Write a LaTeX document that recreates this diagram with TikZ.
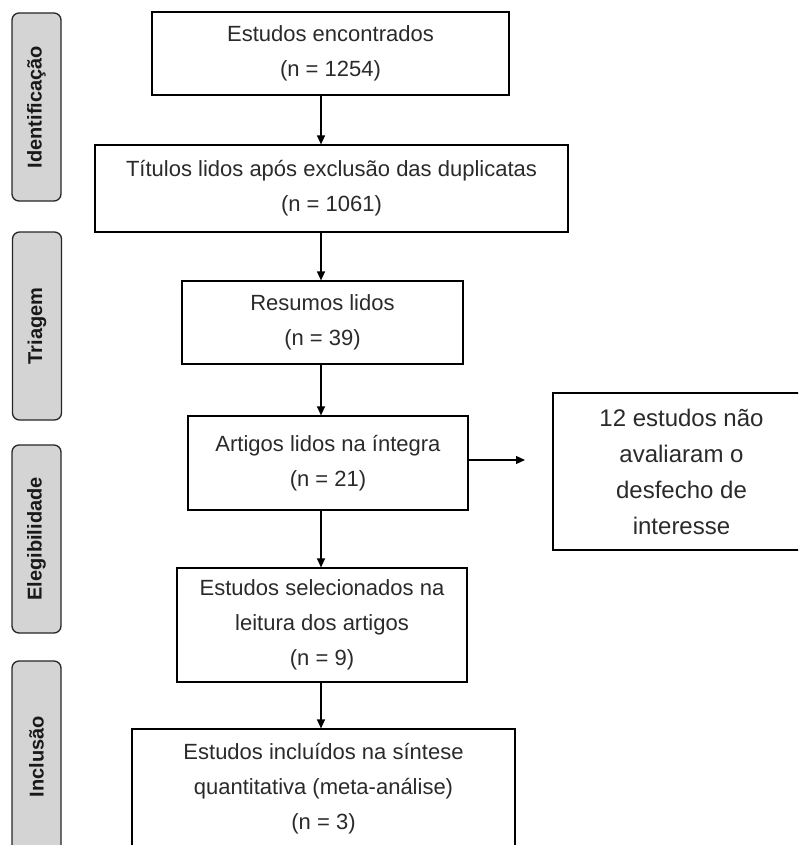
\documentclass[tikz,border=0pt]{standalone}
\usepackage{fontspec}
\setmainfont{Liberation Sans}
\usetikzlibrary{arrows.meta}
\definecolor{txt}{HTML}{2A2A2A}
\definecolor{lblfill}{HTML}{D4D4D4}
\begin{document}
\begin{tikzpicture}[x=1pt,y=-1pt,
  box/.style={draw=black,line width=1.2pt,rectangle,inner sep=0pt,align=center,
    text=txt,font=\fontsize{22}{35}\selectfont},
  sidebox/.style={box,font=\fontsize{24}{36}\selectfont},
  phase/.style={draw=black!85,line width=1.3pt,rectangle,rounded corners=7pt,
    fill=lblfill,inner sep=0pt,text=black!90,font=\bfseries\fontsize{20}{24}\selectfont},
  arr/.style={line width=1.2pt,draw=black,-{Triangle[length=9pt,width=8pt]}}]
\clip (0,0) rectangle (798,845);
\useasboundingbox (0,0) rectangle (798,845);
% phase labels
\node[phase,minimum width=49pt,minimum height=188pt] (p1) at (36.5,107) {\rotatebox{90}{Identificação}};
\node[phase,minimum width=49pt,minimum height=188pt] (p2) at (37,326) {\rotatebox{90}{Triagem}};
\node[phase,minimum width=49pt,minimum height=188pt] (p3) at (36.5,539) {\rotatebox{90}{Elegibilidade}};
\node[phase,minimum width=49pt,minimum height=191pt] (p4) at (36.5,756.5) {\rotatebox{90}{Inclusão}};
% boxes
\node[box,minimum width=357pt,minimum height=83pt] (b1) at (330.5,53.5) {Estudos encontrados\\(n = 1254)};
\node[box,minimum width=473pt,minimum height=87pt] (b2) at (331.5,188.5) {Títulos lidos após exclusão das duplicatas\\(n = 1061)};
\node[box,minimum width=281pt,minimum height=83pt] (b3) at (322.5,322.5) {Resumos lidos\\(n = 39)};
\node[box,minimum width=280pt,minimum height=94pt] (b4) at (328,463) {Artigos lidos na íntegra\\(n = 21)};
\node[sidebox,minimum width=257pt,minimum height=157pt] (b5) at (681.5,471.5) {12 estudos não\\avaliaram o\\desfecho de\\interesse};
\node[box,minimum width=290pt,minimum height=114pt] (b6) at (322,625) {Estudos selecionados na\\leitura dos artigos\\(n = 9)};
\node[box,minimum width=383pt,minimum height=120pt] (b7) at (323.5,789) {Estudos incluídos na síntese\\quantitativa (meta-análise)\\(n = 3)};
% connectors
\coordinate (ax) at (321,0);
\coordinate (hend) at (525,460);
\draw[arr] (b1.south -| ax) -- (b2.north -| ax);
\draw[arr] (b2.south -| ax) -- (b3.north -| ax);
\draw[arr] (b3.south -| ax) -- (b4.north -| ax);
\draw[arr] (b4.south -| ax) -- (b6.north -| ax);
\draw[arr] (b6.south -| ax) -- (b7.north -| ax);
\draw[arr] (b4.east |- hend) -- (hend);
\end{tikzpicture}
\end{document}
